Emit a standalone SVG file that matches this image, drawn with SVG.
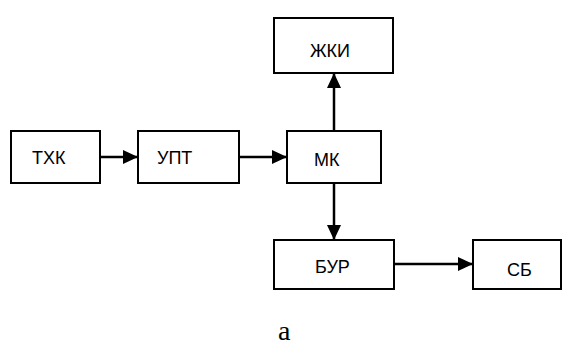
<svg xmlns="http://www.w3.org/2000/svg" width="563" height="347" viewBox="0 0 563 347">
<style>
.box{fill:#fff;stroke:#000;stroke-width:2}
.lbl{font-family:"Liberation Sans",Arial,sans-serif;font-size:18px;fill:#000}
.edge{fill:none;stroke:#000;stroke-width:2.5}
.cap{font-family:"Liberation Serif","Times New Roman",serif;font-size:28px;fill:#000}
</style>
<defs>
<marker id="ah" markerUnits="userSpaceOnUse" markerWidth="16" markerHeight="14" refX="15" refY="7" orient="auto">
<path d="M0,0 L15,7 L0,14 Z" fill="#000"/>
</marker>
</defs>
<rect width="563" height="347" fill="#fff"/>
<g id="connectors">
<path class="edge" d="M100,157 H138" marker-end="url(#ah)"/>
<path class="edge" d="M239,157 H287" marker-end="url(#ah)"/>
<path class="edge" d="M334,131 V73" marker-end="url(#ah)"/>
<path class="edge" d="M334,183 V240" marker-end="url(#ah)"/>
<path class="edge" d="M394,264 H473" marker-end="url(#ah)"/>
</g>
<g id="txk"><rect class="box" x="11" y="131" width="89" height="52"/><text class="lbl" x="32" y="164">ТХК</text></g>
<g id="upt"><rect class="box" x="138" y="131" width="101" height="52"/><text class="lbl" x="157" y="164">УПТ</text></g>
<g id="mk"><rect class="box" x="287" y="131" width="94" height="52"/><text class="lbl" x="314" y="166">МК</text></g>
<g id="zhki"><rect class="box" x="274" y="18" width="119" height="55"/><text class="lbl" x="310" y="57">ЖКИ</text></g>
<g id="bur"><rect class="box" x="274" y="240" width="120" height="49"/><text class="lbl" x="315" y="273">БУР</text></g>
<g id="sb"><rect class="box" x="473" y="240" width="88" height="49"/><text class="lbl" x="507" y="276">СБ</text></g>
<text class="cap" x="278" y="340">а</text>
</svg>
